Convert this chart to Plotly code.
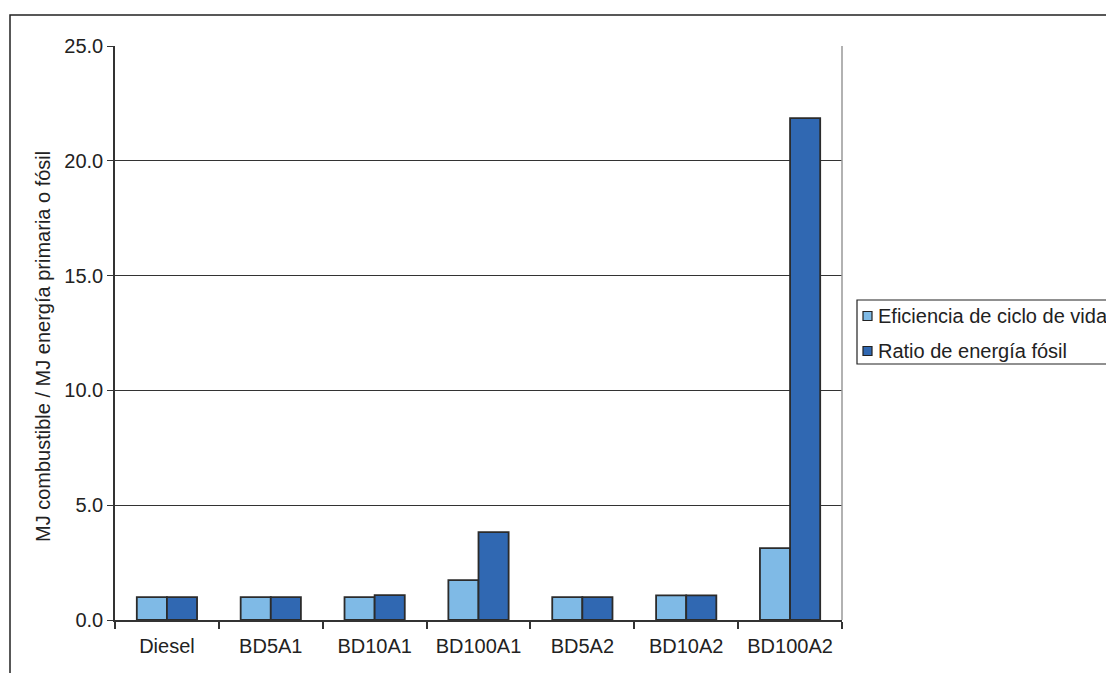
import plotly.graph_objects as go

categories = ["Diesel", "BD5A1", "BD10A1", "BD100A1", "BD5A2", "BD10A2", "BD100A2"]
eficiencia = [1.0, 1.0, 1.0, 1.74, 1.0, 1.07, 3.13]
ratio_fosil = [1.0, 1.0, 1.08, 3.83, 1.0, 1.07, 21.86]
y_ticks = [0, 5, 10, 15, 20, 25]
y_ticklabels = ["0.0", "5.0", "10.0", "15.0", "20.0", "25.0"]
series_names = ["Eficiencia de ciclo de vida", "Ratio de energía fósil"]
series_colors = ["#7fbae6", "#3068b2"]

FONT = "Liberation Sans, Arial, sans-serif"
TXT = "#222222"
FS = 20

fig = go.Figure()
for name, vals, col in zip(series_names, [eficiencia, ratio_fosil], series_colors):
    fig.add_trace(go.Bar(name=name, x=categories, y=vals, showlegend=False,
                         marker=dict(color=col, line=dict(color="#2b2b2b", width=1.8))))

# plot area in window pixels: x 115..842, y 46..620
def px(X):
    return (X - 115) / 727.0

def py(Y):
    return (620 - Y) / 574.0

shapes = [
    dict(type="line", xref="paper", yref="paper", x0=1, x1=1, y0=0, y1=1,
         line=dict(color="#999999", width=1.5)),
    dict(type="rect", xref="paper", yref="paper", x0=px(10), x1=1.6, y0=-0.3, y1=py(15),
         line=dict(color=TXT, width=1.5)),
    # legend box
    dict(type="rect", xref="paper", yref="paper", x0=px(857), x1=1.6, y0=py(364), y1=py(300),
         line=dict(color=TXT, width=1.2), fillcolor="white"),
]
annotations = [
    dict(text="MJ combustible / MJ energía primaria o fósil",
         xref="paper", yref="paper", x=px(43), y=py(347),
         xanchor="center", yanchor="middle",
         textangle=-90, showarrow=False,
         font=dict(family=FONT, size=FS, color=TXT)),
]
legend_rows = [316, 351]
for name, col, yc in zip(series_names, series_colors, legend_rows):
    shapes.append(dict(type="rect", xref="paper", yref="paper",
                       x0=px(863), x1=px(872), y0=py(yc + 4.5), y1=py(yc - 4.5),
                       fillcolor=col, line=dict(color=TXT, width=1.2)))
    annotations.append(dict(text=name, xref="paper", yref="paper",
                            x=px(876), y=py(yc), xanchor="left", yanchor="middle",
                            showarrow=False,
                            font=dict(family=FONT, size=FS, color=TXT)))

fig.update_layout(
    width=1106, height=673,
    margin=dict(l=115, r=264, t=46, b=53, autoexpand=False),
    paper_bgcolor="white", plot_bgcolor="white",
    barmode="group", bargap=0.42, bargroupgap=0,
    font=dict(family=FONT, size=FS, color=TXT),
    showlegend=False,
    xaxis=dict(showline=True, linecolor="#333333", linewidth=1.5,
               ticks="outside", tickson="boundaries", ticklen=7, tickcolor="#333333",
               tickwidth=1.5, tickfont=dict(size=FS), showgrid=False,
               ticklabelstandoff=7),
    yaxis=dict(range=[0, 25], tickvals=y_ticks, ticktext=y_ticklabels,
               showline=True, linecolor="#333333", linewidth=1.5,
               ticks="outside", ticklen=6, tickcolor="#333333", tickwidth=1.2,
               showgrid=True, gridcolor="#333333", gridwidth=1,
               tickfont=dict(size=FS), zeroline=False),
    annotations=annotations,
    shapes=shapes,
)

fig.write_html("out.html",
               config={"displayModeBar": False},
               post_script="document.body.style.margin='0px';document.body.style.overflow='hidden';")
